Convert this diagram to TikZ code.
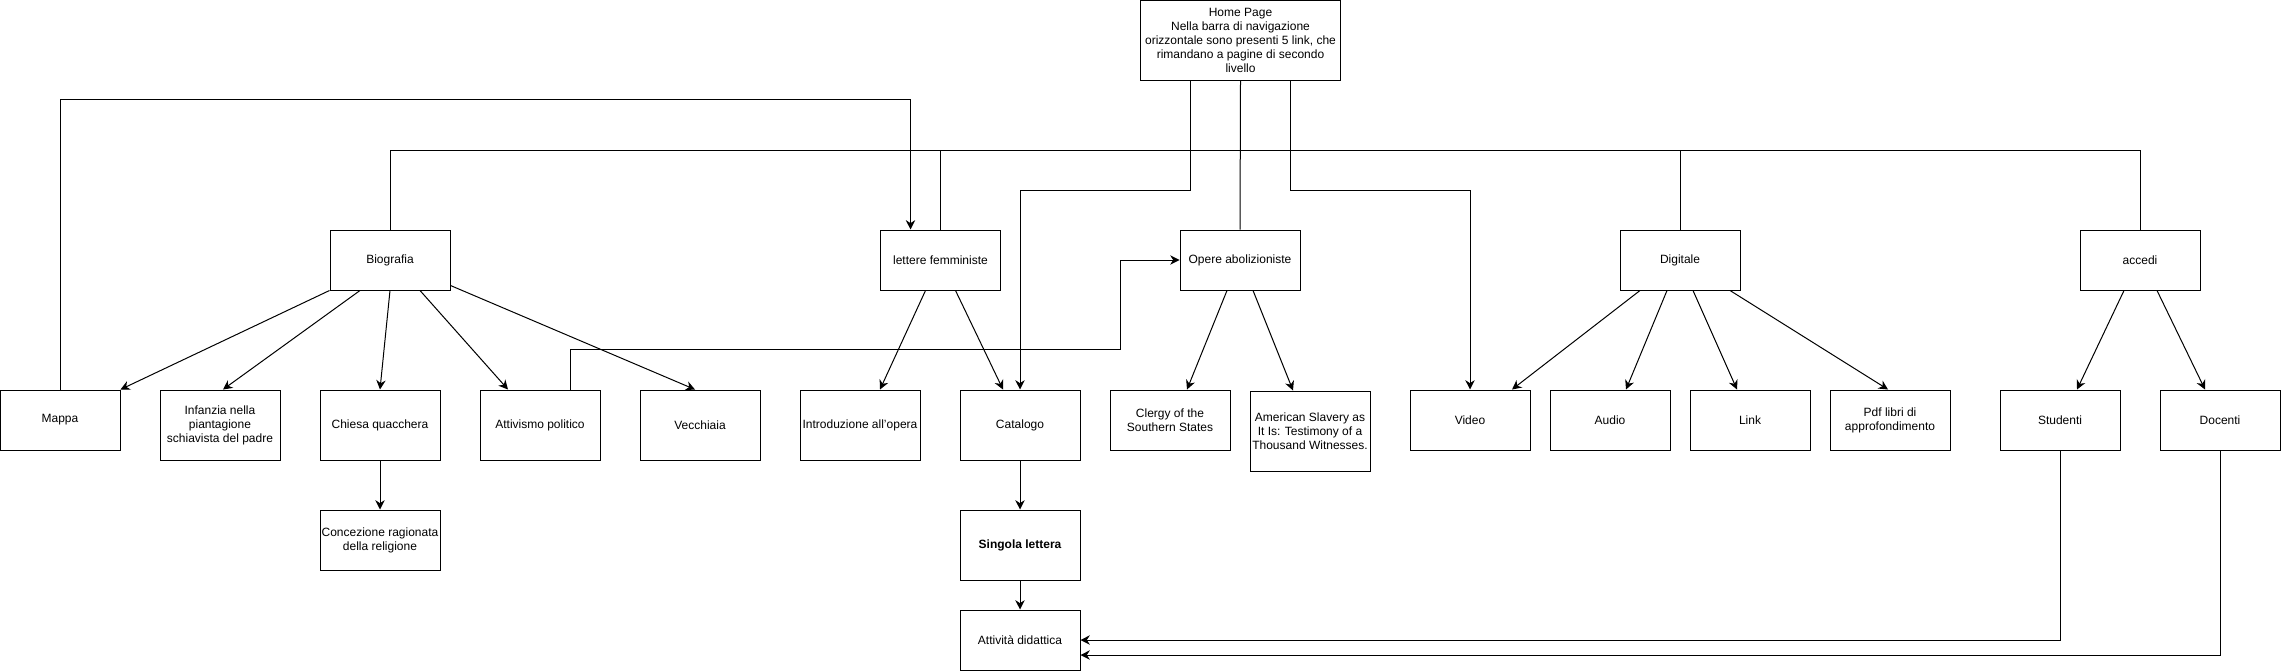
\documentclass[tikz,border=0pt]{standalone}
\usepackage{fontspec}
\setmainfont{Liberation Sans}
\usetikzlibrary{arrows.meta,calc}

\tikzset{
  box/.style={draw, rectangle, minimum width=90pt, minimum height=45pt,
    inner sep=1pt, align=center, font=\fontsize{9}{10.5}\selectfont},
  tallbox/.style={box, minimum height=52.5pt},
}

\begin{document}
\begin{tikzpicture}[x=0.75pt,y=-0.75pt,line width=0.75pt,>={Stealth[length=7pt,width=7pt]}]
\useasboundingbox (0,0) rectangle (2281,671);

\node [box,minimum width=150pt,minimum height=60pt] (home) at (1240.5,40) {Home Page\\Nella barra di navigazione\\orizzontale sono presenti 5 link, che\\rimandano a pagine di secondo\\livello};

\node [box] (bio) at (390,260) {Biografia};
\node [box] (lettere) at (940.5,260) {lettere femministe};
\node [box] (opere) at (1240,260) {Opere abolizioniste};
\node [box] (digitale) at (1680,260) {Digitale};
\node [box] (accedi) at (2140,260) {accedi};

\node [box] (mappa) at (60,420) {Mappa};
\node [tallbox] (infanzia) at (220,425) {Infanzia nella\\piantagione\\schiavista del padre};
\node [tallbox] (chiesa) at (380,425) {Chiesa quacchera};
\node [tallbox] (attivismo) at (540,425) {Attivismo politico};
\node [tallbox] (vecchiaia) at (700,425) {Vecchiaia};
\node [tallbox] (intro) at (860,425) {Introduzione all’opera};
\node [tallbox] (catalogo) at (1020,425) {Catalogo};
\node [box] (clergy) at (1170,420) {Clergy of the\\Southern States};
\node [box,minimum height=60pt] (american) at (1310,431) {American Slavery as\\It Is: Testimony of a\\Thousand Witnesses.};
\node [box] (video) at (1470,420) {Video};
\node [box] (audio) at (1610,420) {Audio};
\node [box] (link) at (1750,420) {Link};
\node [box] (pdf) at (1890,420) {Pdf libri di\\approfondimento};
\node [box] (studenti) at (2060,420) {Studenti};
\node [box] (docenti) at (2220,420) {Docenti};

\node [box] (concezione) at (380,540) {Concezione ragionata\\della religione};
\node [tallbox] (singola) at (1020,545) {\bfseries Singola lettera};
\node [box] (attivita) at (1020,640) {Attività didattica};

% home page links
\coordinate (bus) at (0,150);
\draw (bio.north) |- (bus -| accedi.north) -- (accedi.north);
\draw (lettere.north) -- (lettere.north |- bus);
\draw (digitale.north) -- (digitale.north |- bus);
\draw (home.south) -- (opere.north);
\draw[->] ($(home.south)+(-50,0)$) -- ++(0,110) -| (catalogo.north);
\draw[->] ($(home.south)+(50,0)$) -- ++(0,110) -| (video.north);

\draw[->] (mappa.north) -- ++(0,-290) -| ($(lettere.north)+(-30,0)$);
\draw[->] ($(attivismo.north)+(30,0)$) -- ++(0,-40) -- ++(550,0) |- (opere.west);

% biografia
\draw[->] (bio.south west) -- (mappa.north east);
\draw[->] ($(bio.south)+(-30,0)$) -- ($(infanzia.north)+(3,0)$);
\draw[->] (bio.south) -- (chiesa.north);
\draw[->] ($(bio.south)+(30,0)$) -- ($(attivismo.north)+(-32,0)$);
\draw[->] ($(bio.south east)+(0,-5)$) -- ($(vecchiaia.north)+(-5,0)$);
\draw[->] (chiesa.south) -- (concezione.north);

% lettere
\draw[->] ($(lettere.south)+(-15,0)$) -- ($(intro.north)+(20,0)$);
\draw[->] ($(lettere.south)+(15,0)$) -- ($(catalogo.north)+(-17,0)$);
\draw[->] (catalogo.south) -- (singola.north);
\draw[->] (singola.south) -- (attivita.north);

% opere
\draw[->] ($(opere.south)+(-13,0)$) -- ($(clergy.north)+(17,0)$);
\draw[->] ($(opere.south)+(13,0)$) -- ($(american.north)+(-17,0)$);

% digitale
\draw[->] ($(digitale.south)+(-40,0)$) -- ($(video.north)+(42,0)$);
\draw[->] ($(digitale.south)+(-13,0)$) -- ($(audio.north)+(16,0)$);
\draw[->] ($(digitale.south)+(13,0)$) -- ($(link.north)+(-13,0)$);
\draw[->] ($(digitale.south)+(50,0)$) -- ($(pdf.north)+(-2,0)$);

% accedi
\draw[->] ($(accedi.south)+(-16,0)$) -- ($(studenti.north)+(17,0)$);
\draw[->] ($(accedi.south)+(17,0)$) -- ($(docenti.north)+(-15,0)$);
\draw[->] (studenti.south) |- (attivita.east);
\draw[->] (docenti.south) |- ($(attivita.east)+(0,15)$);

\end{tikzpicture}
\end{document}
